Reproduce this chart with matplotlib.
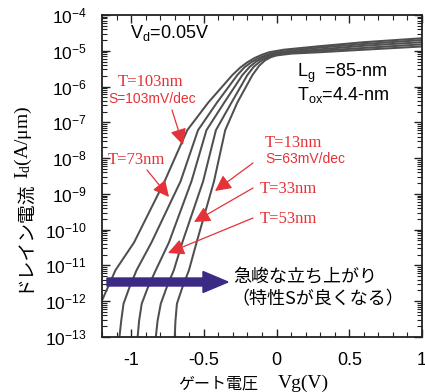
import matplotlib
matplotlib.use('Agg')
import matplotlib.pyplot as plt
import matplotlib.transforms as mtransforms
from matplotlib.ticker import LogLocator, MultipleLocator, FixedLocator, FixedFormatter, NullFormatter
from matplotlib.patches import FancyArrow

plt.rcParams['font.family'] = ['Liberation Sans', 'DejaVu Sans']
plt.rcParams['axes.unicode_minus'] = False

# ---------------- data ----------------
# gate voltage (V) and log10 of drain current (A/um) for each Si thickness
vg_103 = [-1.21, -1.107, -0.98, -0.77, -0.614, -0.47, -0.304, -0.25, -0.20, -0.15, -0.10,
          -0.05, 0.05, 0.15, 0.3, 0.6, 1.0]
lg_103 = [-12.07, -11.13, -10.36, -8.65, -7.22, -6.45, -5.68, -5.47, -5.32, -5.20, -5.11,
          -5.04, -4.97, -4.93, -4.87, -4.76, -4.65]

vg_73 = [-1.088, -1.080, -1.068, -1.052, -1.012, -0.962, -0.86, -0.66, -0.54, -0.41, -0.27,
         -0.22, -0.17, -0.12, -0.07, -0.02, 0.08, 0.18, 0.3, 0.6, 1.0]
lg_73 = [-13.3, -13.0, -12.55, -12.07, -11.62, -11.13, -10.36, -8.65, -7.22, -6.45, -5.68,
         -5.46, -5.31, -5.20, -5.12, -5.06, -5.00, -4.96, -4.91, -4.81, -4.70]

vg_53 = [-0.962, -0.955, -0.945, -0.927, -0.885, -0.830, -0.74, -0.585, -0.482, -0.36, -0.235,
         -0.185, -0.14, -0.095, -0.05, 0.0, 0.1, 0.3, 0.6, 1.0]
lg_53 = [-13.3, -13.0, -12.55, -12.07, -11.62, -11.13, -10.36, -8.65, -7.22, -6.45, -5.68,
         -5.45, -5.30, -5.20, -5.13, -5.08, -5.03, -4.96, -4.86, -4.76]

vg_33 = [-0.838, -0.830, -0.818, -0.796, -0.756, -0.706, -0.648, -0.505, -0.417, -0.31, -0.201,
         -0.155, -0.11, -0.065, -0.02, 0.05, 0.15, 0.3, 0.6, 1.0]
lg_33 = [-13.3, -13.0, -12.55, -12.07, -11.62, -11.13, -10.36, -8.65, -7.22, -6.45, -5.68,
         -5.44, -5.29, -5.19, -5.13, -5.08, -5.04, -5.00, -4.92, -4.82]

vg_13 = [-0.705, -0.700, -0.695, -0.685, -0.648, -0.602, -0.55, -0.43, -0.353, -0.27, -0.166,
         -0.12, -0.08, -0.04, 0.0, 0.1, 0.3, 0.6, 1.0]
lg_13 = [-13.3, -13.0, -12.55, -12.07, -11.62, -11.13, -10.36, -8.65, -7.22, -6.45, -5.68,
         -5.42, -5.27, -5.18, -5.13, -5.08, -5.04, -4.97, -4.88]

curves_vg = [vg_103, vg_73, vg_53, vg_33, vg_13]
curves_lg = [lg_103, lg_73, lg_53, lg_33, lg_13]

x_ticks = [-1, -0.5, 0, 0.5, 1]
x_tick_labels = ['-1', '-0.5', '0', '0.5', '1']
y_exponents = [-13, -12, -11, -10, -9, -8, -7, -6, -5, -4]

W, H = 425, 392
fig = plt.figure(figsize=(W / 100, H / 100), dpi=100)
ax = fig.add_axes([102 / W, 1 - 337 / H, 320 / W, 322 / H])

for vg, lg in zip(curves_vg, curves_lg):
    ax.semilogy(vg, [10.0 ** v for v in lg], color='#4f4f4f', lw=1.45,
                solid_joinstyle='round', solid_capstyle='round')

ax.set_xlim(-1.2, 1.0)
ax.set_ylim(1e-13, 1e-4)

ax.xaxis.set_major_locator(FixedLocator(x_ticks))
ax.xaxis.set_major_formatter(FixedFormatter(x_tick_labels))
ax.xaxis.set_minor_locator(MultipleLocator(0.1))
ax.yaxis.set_major_locator(FixedLocator([10.0 ** e for e in y_exponents]))
ax.yaxis.set_major_formatter(FixedFormatter([r'$\mathregular{10^{%d}}$' % e for e in y_exponents]))
ax.yaxis.set_minor_locator(LogLocator(base=10, subs=range(2, 10), numticks=20))
ax.yaxis.set_minor_formatter(NullFormatter())

ax.tick_params(which='both', direction='in', top=True, right=True, color='#222222')
ax.tick_params(which='major', length=6, width=1.0)
ax.tick_params(which='minor', length=3.5, width=0.8)
ax.tick_params(axis='x', which='major', labelsize=13, pad=11)
ax.tick_params(axis='y', which='major', labelsize=12.5, pad=11)
for s in ax.spines.values():
    s.set_linewidth(1.3)
    s.set_color('#222222')


def P(x, y):
    return (x / W, 1 - y / H)


red = '#e53238'
serif = ['Liberation Serif', 'DejaVu Serif']
cjk = ['Noto Sans CJK JP', 'DejaVu Sans']

# black annotations
fig.text(*P(130, 38), r'$\mathregular{V_d}$=0.05V', fontsize=13, ha='left', va='baseline')
fig.text(*P(297, 77), r'$\mathregular{L_g}$  =85-nm', fontsize=13, ha='left', va='baseline')
fig.text(*P(297, 100), r'$\mathregular{T_{ox}}$=4.4-nm', fontsize=13, ha='left', va='baseline')

# red labels
fig.text(*P(118, 86), 'T=103nm', color=red, fontsize=12, family=serif, ha='left', va='baseline')
fig.text(*P(108, 103), 'S=103mV/dec', color=red, fontsize=10, ha='left', va='baseline')
fig.text(*P(108, 164), 'T=73nm', color=red, fontsize=12, family=serif, ha='left', va='baseline')
fig.text(*P(265, 147), 'T=13nm', color=red, fontsize=12, family=serif, ha='left', va='baseline')
fig.text(*P(265, 163), 'S=63mV/dec', color=red, fontsize=10, ha='left', va='baseline')
fig.text(*P(260, 193), 'T=33nm', color=red, fontsize=12, family=serif, ha='left', va='baseline')
fig.text(*P(260, 223), 'T=53nm', color=red, fontsize=12, family=serif, ha='left', va='baseline')

arrows = [((172, 110), (183, 145)),
          ((147, 170), (169, 197)),
          ((253, 163), (215, 191)),
          ((253, 188), (194, 222)),
          ((253, 218), (168, 253))]
for (x0, y0), (x1, y1) in arrows:
    fig.add_artist(matplotlib.text.Annotation(
        '', xy=P(x1, y1), xytext=P(x0, y0), xycoords='figure fraction', textcoords='figure fraction',
        arrowprops=dict(arrowstyle='-|>,head_length=0.7,head_width=0.35', color=red, lw=0.9,
                        shrinkA=0, shrinkB=0, mutation_scale=14)))

# big arrow
pxtrans = mtransforms.Affine2D().scale(1 / W, 1 / H) + fig.transFigure
big = FancyArrow(107, H - 282, 121, 0, width=8, head_width=21, head_length=25,
                 length_includes_head=True, color='#3c2a85', transform=pxtrans, zorder=5)
fig.add_artist(big)

fig.text(*P(233, 276), '急峻な立ち上がり', fontsize=13, family=cjk, ha='left', va='center')
fig.text(*P(231, 299), '（特性Sが良くなる）', fontsize=13, family=cjk, ha='left', va='center')

# axis labels (mixed fonts)
fig.text(*P(28, 292), 'ドレイン電流', fontsize=13.5, family=cjk, rotation=90,
         rotation_mode='anchor', ha='left', va='baseline')
fig.text(*P(28, 179), r'$\mathregular{I_d}$(A/μm)', fontsize=14, family=serif, rotation=90,
         rotation_mode='anchor', ha='left', va='baseline')
fig.text(*P(178, 388), 'ゲート電圧', fontsize=11.5, family=cjk, ha='left', va='baseline')
fig.text(*P(278, 388), 'Vg(V)', fontsize=14, family=serif, ha='left', va='baseline')

fig.savefig('out.png', dpi=100)
